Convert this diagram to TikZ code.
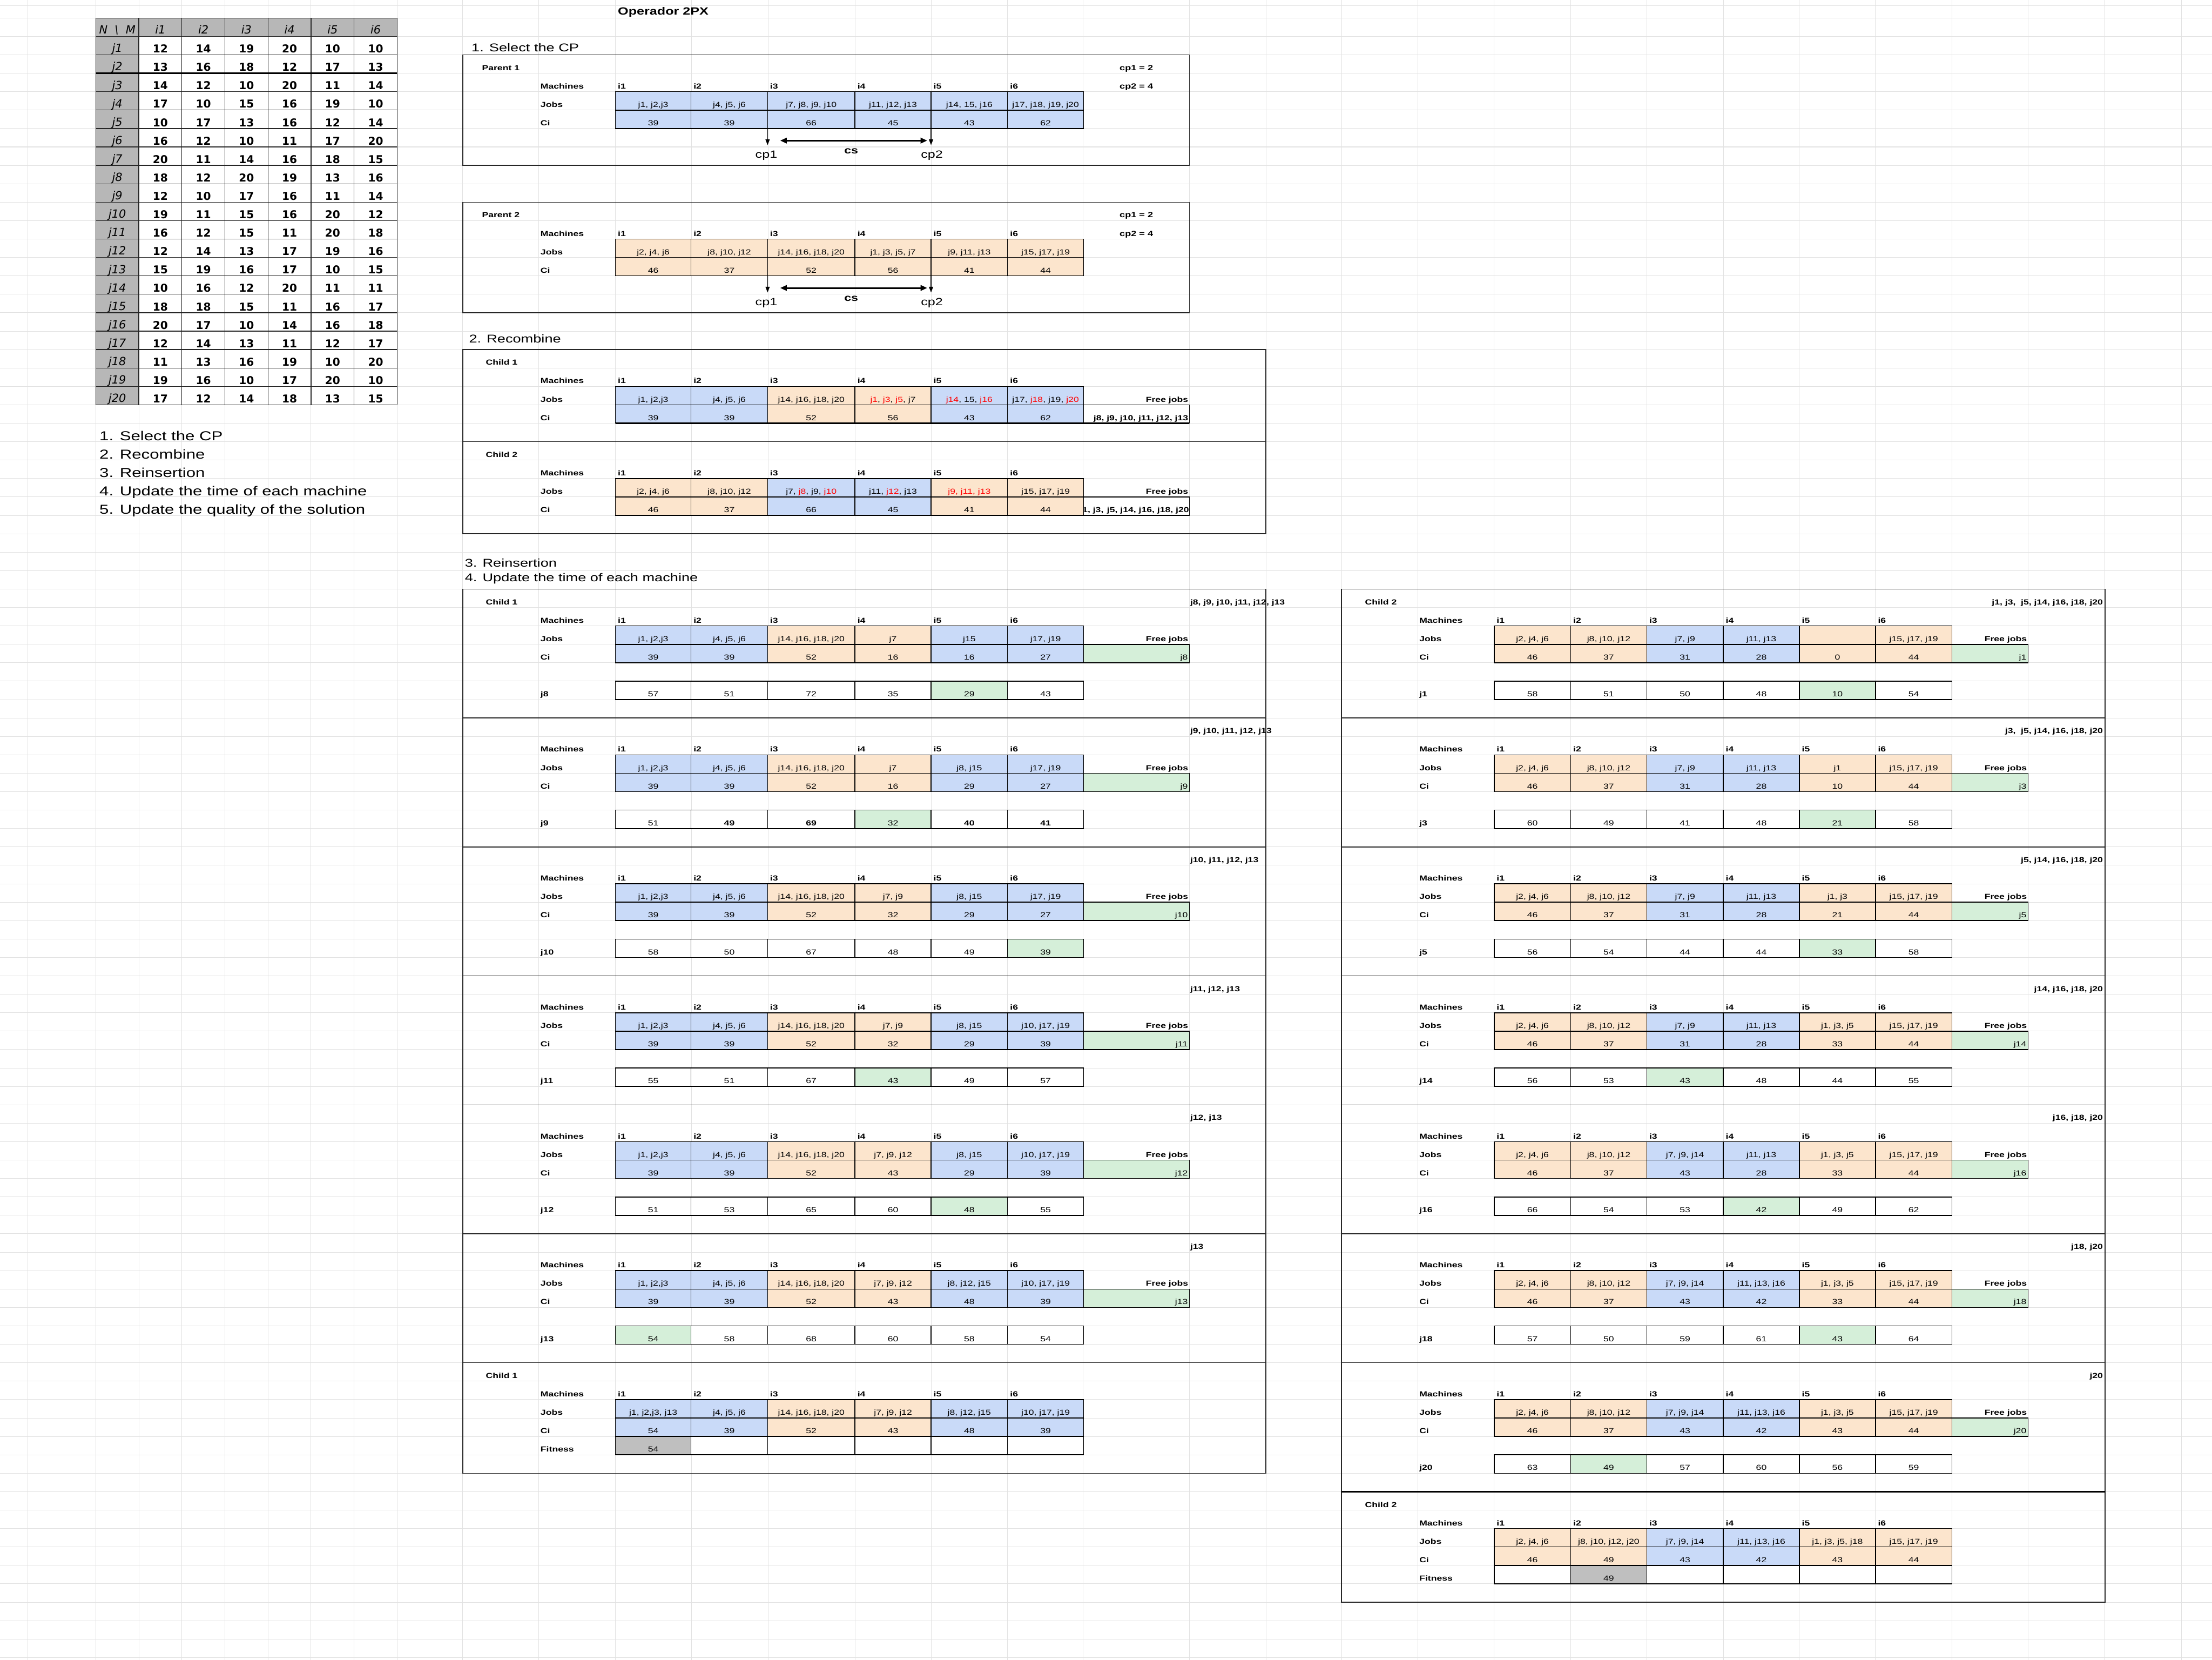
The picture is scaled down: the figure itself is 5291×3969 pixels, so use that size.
\documentclass[tikz,border=0pt]{standalone}
\usepackage{fontspec}
\setmainfont{Liberation Sans}
\newfontfamily\sheet[FakeStretch=1.3]{Liberation Sans}
\newfontfamily\tabf{DejaVu Sans}
\usetikzlibrary{arrows.meta}
\definecolor{cb}{HTML}{C9DAF8}
\definecolor{co}{HTML}{FCE5CD}
\definecolor{cg}{HTML}{D5EFD9}
\definecolor{cw}{HTML}{FFFFFF}
\definecolor{ck}{HTML}{BFBFBF}
\definecolor{thead}{HTML}{B7B7B7}
\definecolor{gridc}{HTML}{E2E2E2}
\definecolor{cred}{HTML}{FF0000}
\newcommand\redj[1]{\textcolor{cred}{#1}}
\newcommand\ry[1]{43+44.05*(#1)}
\def\XA{{1472,1653,1836,2045,2227,2410,2592}}
\def\XB{{3574,3757,3939,4122,4304,4486,4669}}
\tikzset{
  every node/.style={inner sep=0pt, outer sep=0pt},
  lab/.style={font=\sheet\bfseries\fontsize{17.5}{20}\selectfont, anchor=base west},
  labr/.style={font=\sheet\bfseries\fontsize{17.5}{20}\selectfont, anchor=base east},
  labn/.style={font=\sheet\bfseries\fontsize{18}{21}\selectfont, anchor=base west},
  cell/.style={font=\sheet\fontsize{17.5}{20}\selectfont, anchor=base},
  cellr/.style={font=\sheet\fontsize{17.5}{20}\selectfont, anchor=base east},
  head/.style={font=\sheet\fontsize{27}{30}\selectfont, anchor=base west},
  headb/.style={font=\sheet\bfseries\fontsize{25}{28}\selectfont, anchor=base west},
  steps/.style={font=\sheet\fontsize{31}{34}\selectfont, anchor=base west},
  cpl/.style={font=\sheet\fontsize{25}{28}\selectfont, anchor=base},
  csl/.style={font=\sheet\bfseries\fontsize{23}{26}\selectfont, anchor=base},
  tlab/.style={font=\tabf\itshape\fontsize{27}{30}\selectfont, anchor=base},
  tnum/.style={font=\tabf\bfseries\fontsize{26}{30}\selectfont, anchor=base},
  box/.style={draw=black!85, line width=2pt},
  tb/.style={draw=black, line width=2pt},
  tline/.style={draw=black!85, line width=1.6pt},
  gridl/.style={draw=gridc, line width=1.3pt},
  arr/.style={-{Triangle[length=14pt,width=10pt]}, line width=2pt},
  dbl/.style={{Triangle[length=16pt,width=13pt]}-{Triangle[length=16pt,width=13pt]}, line width=4pt},
}
% one row of six cells: #1 x-array, #2 row index, #3 name, #4 fill/text list
\newcommand\trow[4]{%
  \foreach \f/\t [count=\i from 0] in {#4}{%
    \pgfmathsetmacro\xl{#1[\i]}%
    \pgfmathsetmacro\xr{#1[\i+1]}%
    \path[tb, fill=c\f] (\xl,{\ry{#2}}) rectangle (\xr,{\ry{#2+1}});
    \node[cell] (#3-\i) at ({(\xl+\xr)/2},{\ry{#2+1}-7}) {\t};
  }%
}
% machines row: #1 label x, #2 x-array, #3 row index, #4 name
\newcommand\mrow[4]{%
  \node[lab] (#4-mach) at (#1,{\ry{#3+1}-7}) {Machines};
  \foreach \i in {0,...,5}{%
    \pgfmathsetmacro\xl{#2[\i]}%
    \pgfmathtruncatemacro\n{\i+1}%
    \node[lab] (#4-i\n) at (\xl+6,{\ry{#3+1}-7}) {i\n};
  }%
}
% parent block: #1 top row, #2 name, #3 title, #4 jobs, #5 ci
\newcommand\parentblk[5]{%
  \draw[box] (1107,{\ry{#1}}) rectangle (2845,{\ry{#1+6}});
  \node[lab] (#2-t) at (1153,{\ry{#1+1}-7}) {#3};
  \node[labn] (#2-cp1) at (2678,{\ry{#1+1}-7}) {cp1 = 2};
  \node[labn] (#2-cp2) at (2678,{\ry{#1+2}-7}) {cp2 = 4};
  \mrow{1293}{\XA}{#1+1}{#2}
  \node[lab] (#2-jl) at (1293,{\ry{#1+3}-7}) {Jobs};
  \node[lab] (#2-cl) at (1293,{\ry{#1+4}-7}) {Ci};
  \trow{\XA}{#1+2}{#2-j}{#4}
  \trow{\XA}{#1+3}{#2-c}{#5}
  \coordinate (#2-a1s) at (1836,{\ry{#1+2}});
  \coordinate (#2-a1e) at (1836,{\ry{#1+2}+128});
  \coordinate (#2-a2s) at (2227,{\ry{#1+2}});
  \coordinate (#2-a2e) at (2227,{\ry{#1+2}+128});
  \draw[arr] (#2-a1s) -- (#2-a1e);
  \draw[arr] (#2-a2s) -- (#2-a2e);
  \coordinate (#2-sl) at (1866,{\ry{#1+2}+117});
  \coordinate (#2-sr) at (2218,{\ry{#1+2}+117});
  \draw[dbl] (#2-sl) -- (#2-sr);
  \node[cpl] (#2-cpa) at (1833,{\ry{#1+2}+159}) {cp1};
  \node[cpl] (#2-cpb) at (2229,{\ry{#1+2}+159}) {cp2};
  \node[csl] (#2-cs) at (2036,{\ry{#1+2}+148}) {cs};
}
% reinsertion block, left: #1 top row, #2 name, #3 free list, #4 jobs, #5 ci, #6 free job, #7 eval label, #8 eval list
\newcommand\blockA[8]{%
  \node[lab] (#2-fl) at (2847,{\ry{#1+1}-7}) {#3};
  \mrow{1293}{\XA}{#1+1}{#2}
  \node[lab] (#2-jl) at (1293,{\ry{#1+3}-7}) {Jobs};
  \node[lab] (#2-cl) at (1293,{\ry{#1+4}-7}) {Ci};
  \trow{\XA}{#1+2}{#2-j}{#4}
  \trow{\XA}{#1+3}{#2-c}{#5}
  \node[labr] (#2-fj) at (2842,{\ry{#1+3}-7}) {Free jobs};
  \path[tb, fill=cg] (2592,{\ry{#1+3}}) rectangle (2845,{\ry{#1+4}});
  \node[cellr] (#2-f) at (2841,{\ry{#1+4}-7}) {#6};
  \node[lab] (#2-el) at (1293,{\ry{#1+6}-7}) {#7};
  \trow{\XA}{#1+5}{#2-e}{#8}
}
% reinsertion block, right
\newcommand\blockB[8]{%
  \node[labr] (#2-fl) at (5030,{\ry{#1+1}-7}) {#3};
  \mrow{3395}{\XB}{#1+1}{#2}
  \node[lab] (#2-jl) at (3395,{\ry{#1+3}-7}) {Jobs};
  \node[lab] (#2-cl) at (3395,{\ry{#1+4}-7}) {Ci};
  \trow{\XB}{#1+2}{#2-j}{#4}
  \trow{\XB}{#1+3}{#2-c}{#5}
  \node[labr] (#2-fj) at (4848,{\ry{#1+3}-7}) {Free jobs};
  \path[tb, fill=cg] (4669,{\ry{#1+3}}) rectangle (4851,{\ry{#1+4}});
  \node[cellr] (#2-f) at (4847,{\ry{#1+4}-7}) {#6};
  \node[lab] (#2-el) at (3395,{\ry{#1+6}-7}) {#7};
  \trow{\XB}{#1+5}{#2-e}{#8}
}
\begin{document}
\begin{tikzpicture}[x=1pt,y=-1pt]
\useasboundingbox (0,0) rectangle (5291,3969);
\fill[white] (0,0) rectangle (5291,3969);
% spreadsheet grid
\foreach \x in {67,229,332,435,538,641,744,847,950,1107,1288,1472,1654,1837,2045,2227,2410,2591,2845,3028,3209,3392,3574,3757,3939,4122,4304,4486,4669,4851,5035,5218}
  \draw[gridl] (\x,0) -- (\x,3969);
\draw[gridl] (0,13) -- (5291,13);
\foreach \k in {0,...,89} \draw[gridl] (0,{\ry{\k}}) -- (5291,{\ry{\k}});

% ---------- data table ----------
\fill[thead] (229,{\ry{0}}) rectangle (950,{\ry{1}});
\fill[thead] (229,{\ry{1}}) rectangle (332,{\ry{21}});
\foreach \k in {0,...,21} \draw[tline] (229,{\ry{\k}}) -- (950,{\ry{\k}});
\foreach \x in {229,332,435,538,641,744,847,950} \draw[tline] (\x,{\ry{0}}) -- (\x,{\ry{21}});
\draw[black, line width=3pt] (229,{\ry{3}}) -- (950,{\ry{3}});
\node[tlab] (th0) at (280.5,{\ry{1}-6}) {N\ \ \textbackslash\ \ M};
\foreach \c in {1,...,6} \node[tlab] (th\c) at ({229+103*\c+51.5},{\ry{1}-6}) {i\c};
\foreach \row [count=\r] in {{12,14,19,20,10,10},{13,16,18,12,17,13},{14,12,10,20,11,14},{17,10,15,16,19,10},{10,17,13,16,12,14},{16,12,10,11,17,20},{20,11,14,16,18,15},{18,12,20,19,13,16},{12,10,17,16,11,14},{19,11,15,16,20,12},{16,12,15,11,20,18},{12,14,13,17,19,16},{15,19,16,17,10,15},{10,16,12,20,11,11},{18,18,15,11,16,17},{20,17,10,14,16,18},{12,14,13,11,12,17},{11,13,16,19,10,20},{19,16,10,17,20,10},{17,12,14,18,13,15}}{
  \node[tlab] (tj\r) at (280.5,{\ry{\r+1}-6}) {j\r};
  \foreach \v [count=\c] in \row {
    \node[tnum] (t\r-\c) at ({229+103*\c+51.5},{\ry{\r+1}-5}) {\v};
  }
}
% steps list
\foreach \s [count=\n] in {1. Select the CP, 2. Recombine, 3. Reinsertion, 4. Update the time of each machine, 5. Update the quality of the solution}
  \node[steps] (st\n) at (238,{\ry{22+\n}-3}) {\s};

% ---------- headers ----------
\node[headb] (title) at (1478,36) {Operador 2PX};
\node[head] (h1) at (1128,123) {1. Select the CP};
\node[head] (h2) at (1122,820) {2. Recombine};
\node[head] (h3) at (1112,1356) {3. Reinsertion};
\node[head] (h4) at (1112,1390) {4. Update the time of each machine};

% ---------- parents ----------
\parentblk{2}{pa}{Parent 1}
  {b/{j1, j2,j3}, b/{j4, j5, j6}, b/{j7, j8, j9, j10}, b/{j11, j12, j13}, b/{j14, 15, j16}, b/{j17, j18, j19, j20}}
  {b/39, b/39, b/66, b/45, b/43, b/62}
\parentblk{10}{pb}{Parent 2}
  {o/{j2, j4, j6}, o/{j8, j10, j12}, o/{j14, j16, j18, j20}, o/{j1, j3, j5, j7}, o/{j9, j11, j13}, o/{j15, j17, j19}}
  {o/46, o/37, o/52, o/56, o/41, o/44}

% ---------- recombine ----------
\draw[box] (1107,{\ry{18}}) rectangle (3028,{\ry{28}});
\draw[box] (1107,{\ry{23}}) -- (3028,{\ry{23}});
\node[lab] (r1-t) at (1162,{\ry{19}-7}) {Child 1};
\mrow{1293}{\XA}{19}{r1}
\node[lab] (r1-jl) at (1293,{\ry{21}-7}) {Jobs};
\node[lab] (r1-cl) at (1293,{\ry{22}-7}) {Ci};
\trow{\XA}{20}{r1-j}{b/{j1, j2,j3}, b/{j4, j5, j6}, o/{j14, j16, j18, j20}, o/{\redj{j1}, \redj{j3}, \redj{j5}, j7}, b/{\redj{j14}, 15, \redj{j16}}, b/{j17, \redj{j18}, j19, \redj{j20}}}
\trow{\XA}{21}{r1-c}{b/39, b/39, o/52, o/56, b/43, b/62}
\node[labr] (r1-fj) at (2842,{\ry{21}-7}) {Free jobs};
\draw[tb] (2592,{\ry{21}}) rectangle (2845,{\ry{22}});
\node[labr] (r1-fl) at (2842,{\ry{22}-7}) {j8, j9, j10, j11, j12, j13};
\draw[black, line width=3.5pt] (1472,{\ry{22}}) -- (2845,{\ry{22}});

\node[lab] (r2-t) at (1162,{\ry{24}-7}) {Child 2};
\mrow{1293}{\XA}{24}{r2}
\node[lab] (r2-jl) at (1293,{\ry{26}-7}) {Jobs};
\node[lab] (r2-cl) at (1293,{\ry{27}-7}) {Ci};
\trow{\XA}{25}{r2-j}{o/{j2, j4, j6}, o/{j8, j10, j12}, b/{j7, \redj{j8}, j9, \redj{j10}}, b/{j11, \redj{j12}, j13}, o/{\redj{j9, j11, j13}}, o/{j15, j17, j19}}
\trow{\XA}{26}{r2-c}{o/46, o/37, b/66, b/45, o/41, o/44}
\node[labr] (r2-fj) at (2842,{\ry{26}-7}) {Free jobs};
\draw[tb] (2592,{\ry{26}}) rectangle (2845,{\ry{27}});
\begin{scope}
  \clip (2594,{\ry{26}}) rectangle (2845,{\ry{27}});
  \node[labr] (r2-fl) at (2844,{\ry{27}-7}) {j1, j3,\hspace{0.12em} j5, j14, j16, j18, j20};
\end{scope}

% ---------- reinsertion boxes ----------
\draw[box] (1107,{\ry{31}}) rectangle (3028,{\ry{79}});
\foreach \k in {38,45,52,59,66,73} \draw[box] (1107,{\ry{\k}}) -- (3028,{\ry{\k}});
\draw[box] (3209,{\ry{31}}) rectangle (5035,{\ry{86}});
\foreach \k in {38,45,52,59,66,73} \draw[box] (3209,{\ry{\k}}) -- (5035,{\ry{\k}});
\draw[black, line width=4.5pt] (3209,{\ry{80}}) -- (5035,{\ry{80}});

% ---------- child 1 reinsertion ----------
\node[lab] (a1-t) at (1162,{\ry{32}-7}) {Child 1};
\blockA{31}{a1}{j8, j9, j10, j11, j12, j13}
 {b/{j1, j2,j3}, b/{j4, j5, j6}, o/{j14, j16, j18, j20}, o/j7, b/j15, b/{j17, j19}}
 {b/39, b/39, o/52, o/16, b/16, b/27}{j8}{j8}
 {w/57, w/51, w/72, w/35, g/29, w/43}
\blockA{38}{a2}{j9, j10, j11, j12, j13}
 {b/{j1, j2,j3}, b/{j4, j5, j6}, o/{j14, j16, j18, j20}, o/j7, b/{j8, j15}, b/{j17, j19}}
 {b/39, b/39, o/52, o/16, b/29, b/27}{j9}{j9}
 {w/51, w/\textbf{49}, w/\textbf{69}, g/32, w/\textbf{40}, w/\textbf{41}}
\blockA{45}{a3}{j10, j11, j12, j13}
 {b/{j1, j2,j3}, b/{j4, j5, j6}, o/{j14, j16, j18, j20}, o/{j7, j9}, b/{j8, j15}, b/{j17, j19}}
 {b/39, b/39, o/52, o/32, b/29, b/27}{j10}{j10}
 {w/58, w/50, w/67, w/48, w/49, g/39}
\blockA{52}{a4}{j11, j12, j13}
 {b/{j1, j2,j3}, b/{j4, j5, j6}, o/{j14, j16, j18, j20}, o/{j7, j9}, b/{j8, j15}, b/{j10, j17, j19}}
 {b/39, b/39, o/52, o/32, b/29, b/39}{j11}{j11}
 {w/55, w/51, w/67, g/43, w/49, w/57}
\blockA{59}{a5}{j12, j13}
 {b/{j1, j2,j3}, b/{j4, j5, j6}, o/{j14, j16, j18, j20}, o/{j7, j9, j12}, b/{j8, j15}, b/{j10, j17, j19}}
 {b/39, b/39, o/52, o/43, b/29, b/39}{j12}{j12}
 {w/51, w/53, w/65, w/60, g/48, w/55}
\blockA{66}{a6}{j13}
 {b/{j1, j2,j3}, b/{j4, j5, j6}, o/{j14, j16, j18, j20}, o/{j7, j9, j12}, b/{j8, j12, j15}, b/{j10, j17, j19}}
 {b/39, b/39, o/52, o/43, b/48, b/39}{j13}{j13}
 {g/54, w/58, w/68, w/60, w/58, w/54}
% final child 1
\node[lab] (af-t) at (1162,{\ry{74}-7}) {Child 1};
\mrow{1293}{\XA}{74}{af}
\node[lab] (af-jl) at (1293,{\ry{76}-7}) {Jobs};
\node[lab] (af-cl) at (1293,{\ry{77}-7}) {Ci};
\node[lab] (af-fl) at (1293,{\ry{78}-7}) {Fitness};
\trow{\XA}{75}{af-j}{b/{j1, j2,j3, j13}, b/{j4, j5, j6}, o/{j14, j16, j18, j20}, o/{j7, j9, j12}, b/{j8, j12, j15}, b/{j10, j17, j19}}
\trow{\XA}{76}{af-c}{b/54, b/39, o/52, o/43, b/48, b/39}
\trow{\XA}{77}{af-f}{k/54, w/{}, w/{}, w/{}, w/{}, w/{}}

% ---------- child 2 reinsertion ----------
\node[lab] (b1-t) at (3265,{\ry{32}-7}) {Child 2};
\blockB{31}{b1}{j1, j3,\ \ j5, j14, j16, j18, j20}
 {o/{j2, j4, j6}, o/{j8, j10, j12}, b/{j7, j9}, b/{j11, j13}, o/{}, o/{j15, j17, j19}}
 {o/46, o/37, b/31, b/28, o/0, o/44}{j1}{j1}
 {w/58, w/51, w/50, w/48, g/10, w/54}
\blockB{38}{b2}{j3,\ \ j5, j14, j16, j18, j20}
 {o/{j2, j4, j6}, o/{j8, j10, j12}, b/{j7, j9}, b/{j11, j13}, o/j1, o/{j15, j17, j19}}
 {o/46, o/37, b/31, b/28, o/10, o/44}{j3}{j3}
 {w/60, w/49, w/41, w/48, g/21, w/58}
\blockB{45}{b3}{j5, j14, j16, j18, j20}
 {o/{j2, j4, j6}, o/{j8, j10, j12}, b/{j7, j9}, b/{j11, j13}, o/{j1, j3}, o/{j15, j17, j19}}
 {o/46, o/37, b/31, b/28, o/21, o/44}{j5}{j5}
 {w/56, w/54, w/44, w/44, g/33, w/58}
\blockB{52}{b4}{j14, j16, j18, j20}
 {o/{j2, j4, j6}, o/{j8, j10, j12}, b/{j7, j9}, b/{j11, j13}, o/{j1, j3, j5}, o/{j15, j17, j19}}
 {o/46, o/37, b/31, b/28, o/33, o/44}{j14}{j14}
 {w/56, w/53, g/43, w/48, w/44, w/55}
\blockB{59}{b5}{j16, j18, j20}
 {o/{j2, j4, j6}, o/{j8, j10, j12}, b/{j7, j9, j14}, b/{j11, j13}, o/{j1, j3, j5}, o/{j15, j17, j19}}
 {o/46, o/37, b/43, b/28, o/33, o/44}{j16}{j16}
 {w/66, w/54, w/53, g/42, w/49, w/62}
\blockB{66}{b6}{j18, j20}
 {o/{j2, j4, j6}, o/{j8, j10, j12}, b/{j7, j9, j14}, b/{j11, j13, j16}, o/{j1, j3, j5}, o/{j15, j17, j19}}
 {o/46, o/37, b/43, b/42, o/33, o/44}{j18}{j18}
 {w/57, w/50, w/59, w/61, g/43, w/64}
\blockB{73}{b7}{j20}
 {o/{j2, j4, j6}, o/{j8, j10, j12}, b/{j7, j9, j14}, b/{j11, j13, j16}, o/{j1, j3, j5}, o/{j15, j17, j19}}
 {o/46, o/37, b/43, b/42, o/43, o/44}{j20}{j20}
 {w/63, g/49, w/57, w/60, w/56, w/59}
% final child 2
\node[lab] (bf-t) at (3265,{\ry{81}-7}) {Child 2};
\mrow{3395}{\XB}{81}{bf}
\node[lab] (bf-jl) at (3395,{\ry{83}-7}) {Jobs};
\node[lab] (bf-cl) at (3395,{\ry{84}-7}) {Ci};
\node[lab] (bf-fl) at (3395,{\ry{85}-7}) {Fitness};
\trow{\XB}{82}{bf-j}{o/{j2, j4, j6}, o/{j8, j10, j12, j20}, b/{j7, j9, j14}, b/{j11, j13, j16}, o/{j1, j3, j5, j18}, o/{j15, j17, j19}}
\trow{\XB}{83}{bf-c}{o/46, o/49, b/43, b/42, o/43, o/44}
\trow{\XB}{84}{bf-f}{w/{}, k/49, w/{}, w/{}, w/{}, w/{}}
\end{tikzpicture}
\end{document}
